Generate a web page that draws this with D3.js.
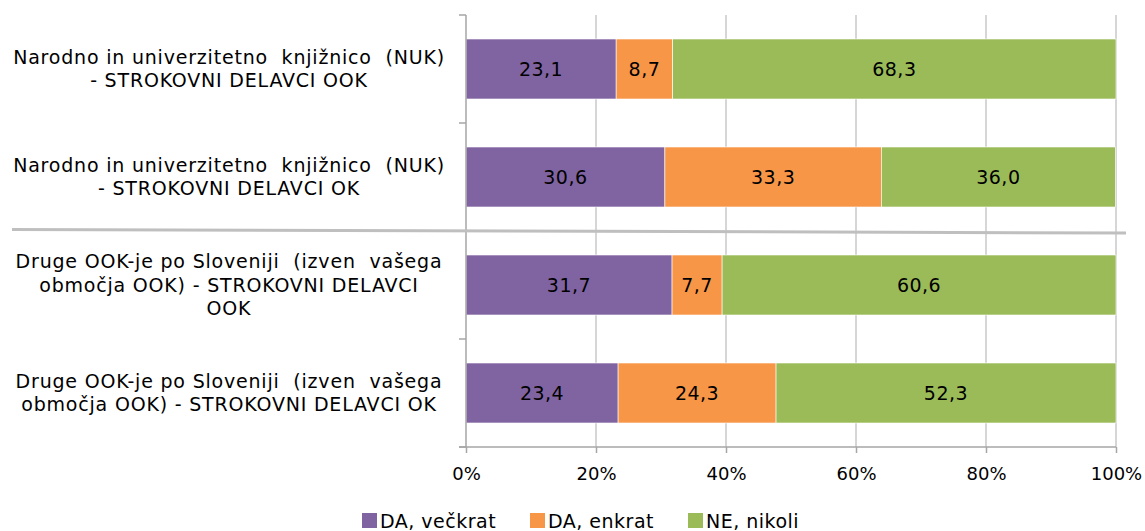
<!DOCTYPE html>
<html><head><meta charset="utf-8">
<script src="https://cdn.jsdelivr.net/npm/d3@7"></script>
<style>body{margin:0;background:#fff}svg{display:block}text{font-family:"DejaVu Sans",sans-serif;fill:#000;white-space:pre}</style>
</head><body>
<svg id="c" width="1145" height="531"></svg>
<script>
const categories = [
  ["Narodno in univerzitetno  knjižnico  (NUK)", "- STROKOVNI DELAVCI OOK"],
  ["Narodno in univerzitetno  knjižnico  (NUK)", "- STROKOVNI DELAVCI OK"],
  ["Druge OOK-je po Sloveniji  (izven  vašega", "območja OOK) - STROKOVNI DELAVCI", "OOK"],
  ["Druge OOK-je po Sloveniji  (izven  vašega", "območja OOK) - STROKOVNI DELAVCI OK"]
];
const seriesNames = ["DA, večkrat", "DA, enkrat", "NE, nikoli"];
const daVeckrat = [23.1, 30.6, 31.7, 23.4];
const daEnkrat = [8.7, 33.3, 7.7, 24.3];
const neNikoli = [68.3, 36.0, 60.6, 52.3];
const xTicks = [0, 20, 40, 60, 80, 100];
const colors = ["#8064A2", "#F79646", "#9BBB59"];

const svg = d3.select("#c");
const L = 466, R = 1116, T = 15, B = 447;
const x = d3.scaleLinear().domain([0, 100]).range([L, R]);
const ids = categories.map((d, i) => i);
const y = d3.scaleBand().domain(ids).range([T, B]).padding(0);
const barH = y.bandwidth() * 60 / 108;
const fmt = v => d3.format(".1f")(v).replace(".", ",");

// gridlines
svg.append("g").selectAll("line").data(xTicks.slice(1)).join("line")
  .attr("x1", d => x(d)).attr("x2", d => x(d)).attr("y1", T).attr("y2", B)
  .attr("stroke", "#c8c8c8").attr("stroke-width", 1.5);

// bars
const series = [daVeckrat, daEnkrat, neNikoli];
const rows = ids.map(i => {
  let acc = 0;
  return series.map((s, k) => { const r = {i, k, x0: acc, v: s[i]}; acc += s[i]; return r; });
}).flat();
const bars = svg.append("g");
bars.selectAll("rect").data(rows).join("rect")
  .attr("x", d => x(d.x0)).attr("width", d => x(Math.min(100, d.x0 + d.v)) - x(d.x0))
  .attr("y", d => y(d.i) + (y.bandwidth() - barH) / 2).attr("height", barH)
  .attr("fill", d => colors[d.k]).attr("stroke", "#fff").attr("stroke-width", 0.6);
bars.selectAll("text").data(rows).join("text")
  .attr("x", d => x(d.x0 + Math.min(d.v, 100 - d.x0) / 2))
  .attr("y", d => y(d.i) + y.bandwidth() / 2).attr("dy", "0.35em")
  .attr("text-anchor", "middle").style("font-size", "19px").style("letter-spacing", "0.5px").text(d => fmt(d.v));

// axes
const yAxis = svg.append("g").attr("transform", `translate(${L},0)`)
  .call(d3.axisLeft(y).tickSize(0).tickFormat(""));
yAxis.select(".domain").attr("stroke", "#a6a6a6").attr("stroke-width", 1.5).attr("d", `M0,${T}V${B}`);
svg.append("g").selectAll("line").data(ids.concat([ids.length])).join("line")
  .attr("x1", L - 7).attr("x2", L).attr("y1", d => T + d * y.step()).attr("y2", d => T + d * y.step())
  .attr("stroke", "#a6a6a6").attr("stroke-width", 1.5);

const xAxis = svg.append("g").attr("transform", `translate(0,${B})`)
  .call(d3.axisBottom(x).tickValues(xTicks).tickSize(6).tickPadding(14).tickFormat(d => d + "%"));
xAxis.select(".domain").attr("stroke", "#a6a6a6").attr("stroke-width", 1.5).attr("d", `M${L - 7},0H${R}`);
xAxis.selectAll(".tick line").attr("stroke", "#a6a6a6").attr("stroke-width", 1.5);
xAxis.selectAll(".tick text").style("font-size", "18px").style("font-family", "DejaVu Sans").attr("fill", "#000");

// category labels
const lab = svg.append("g");
ids.forEach(i => {
  const lines = categories[i];
  const cy = y(i) + y.bandwidth() / 2;
  const lh = 23.5;
  lines.forEach((t, j) => {
    lab.append("text").attr("x", 229).attr("y", cy + (j - (lines.length - 1) / 2) * lh)
      .attr("dy", "0.35em").attr("text-anchor", "middle")
      .style("font-size", "19px").style("letter-spacing", "0.8px").text(t);
  });
});

// separator line
svg.append("line").attr("x1", 12).attr("y1", 229.5).attr("x2", 1126).attr("y2", 233)
  .attr("stroke", "#bfbfbf").attr("stroke-width", 3);

// legend
const legX = [362, 530, 688];
const lg = svg.append("g");
seriesNames.forEach((n, k) => {
  lg.append("rect").attr("x", legX[k]).attr("y", 513).attr("width", 15).attr("height", 15).attr("fill", colors[k]);
  lg.append("text").attr("x", legX[k] + 18).attr("y", 521).attr("dy", "0.35em")
    .style("font-size", "19px").style("letter-spacing", "0.5px").text(n);
});
</script>
</body></html>
